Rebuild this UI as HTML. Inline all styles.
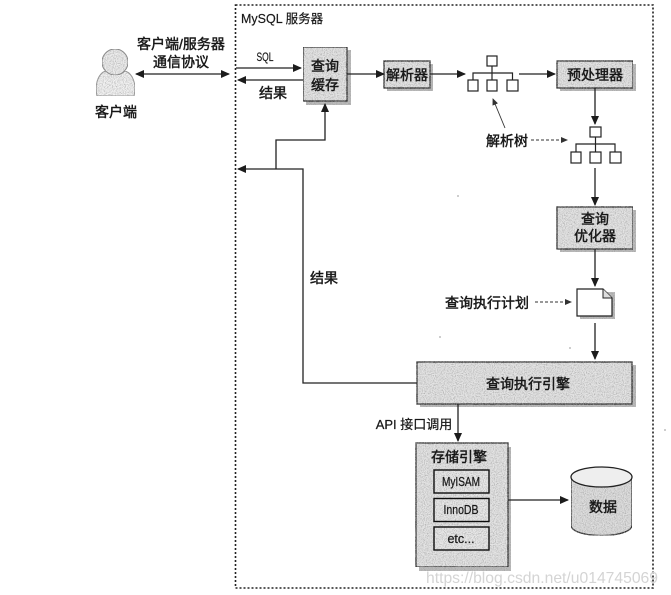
<!DOCTYPE html>
<html><head><meta charset="utf-8">
<style>
html,body{margin:0;padding:0;background:#fff;width:671px;height:595px;overflow:hidden}
svg{display:block}
text{font-family:"Liberation Sans","Noto Sans CJK SC",sans-serif;fill:#1a1a1a}
.b{font-weight:400;stroke:#1a1a1a;stroke-width:.45px}
</style></head><body>
<svg width="671" height="595" viewBox="0 0 671 595" xmlns="http://www.w3.org/2000/svg">
<defs>
<filter id="grain" x="0" y="0" width="100%" height="100%">
<feTurbulence type="fractalNoise" baseFrequency="0.9" numOctaves="2" seed="4" result="n"/>
<feColorMatrix in="n" type="matrix" values="0 0 0 0 0.3  0 0 0 0 0.3  0 0 0 0 0.3  1.8 0 0 0 -0.72" result="d"/>
<feComposite in="d" in2="SourceAlpha" operator="in" result="c"/>
<feMerge><feMergeNode in="SourceGraphic"/><feMergeNode in="c"/></feMerge>
</filter>
<filter id="soft" x="-5%" y="-5%" width="110%" height="110%"><feGaussianBlur stdDeviation="0.35"/></filter>
<marker id="a" markerWidth="9" markerHeight="8" refX="8" refY="4" orient="auto" markerUnits="userSpaceOnUse"><path d="M0,0 L9,4 L0,8 Z" fill="#1a1a1a"/></marker>
<marker id="as" markerWidth="7" markerHeight="6" refX="6" refY="3" orient="auto" markerUnits="userSpaceOnUse"><path d="M0,0 L7,3 L0,6 Z" fill="#333"/></marker>
<marker id="ar" markerWidth="9" markerHeight="8" refX="1" refY="4" orient="auto" markerUnits="userSpaceOnUse"><path d="M9,0 L0,4 L9,8 Z" fill="#1a1a1a"/></marker>
</defs>

<g filter="url(#soft)">
<!-- server dotted frame -->
<rect x="235.5" y="5" width="417.5" height="583" fill="none" stroke="#222" stroke-width="1.6" stroke-dasharray="2 2"/>

<!-- client icon -->
<path d="M97,96 C94,82 100,72 106,71 C111,76 120,76 125,71 C132,73 137,83 134,96 Z" fill="#f2f2f2" stroke="#999" stroke-width="1" filter="url(#grain)"/>
<circle cx="115" cy="62" r="13" fill="#ececec" stroke="#888" stroke-width="1" filter="url(#grain)"/>

<!-- shadows -->
<g fill="#bcbcbc" filter="url(#grain)">
<rect x="306" y="50" width="45" height="55"/>
<rect x="387" y="64" width="46" height="27"/>
<rect x="560" y="64" width="76" height="27"/>
<rect x="560" y="210" width="76" height="42"/>
<rect x="420" y="365" width="216" height="42"/>
<rect x="419" y="447" width="92" height="124"/>
<rect x="580" y="292" width="35" height="27"/>
<rect x="437" y="473" width="55" height="23"/>
<rect x="437" y="501" width="55" height="23"/>
<rect x="437" y="530" width="55" height="23"/>
</g>

<!-- boxes -->
<g fill="#e4e4e4" stroke="#222" stroke-width="1.3" filter="url(#grain)">
<rect x="303" y="47" width="44" height="54"/>
<rect x="384" y="61" width="46" height="27"/>
<rect x="557" y="61" width="76" height="27"/>
<rect x="557" y="207" width="76" height="42"/>
<rect x="417" y="362" width="215" height="42"/>
<rect x="416" y="443" width="92" height="124"/>
</g>
<g fill="#e8e8e8" filter="url(#grain)">
<rect x="434" y="470" width="55" height="23"/>
<rect x="434" y="498.500" width="55" height="23"/>
<rect x="434" y="527" width="55" height="23"/>
</g>
<g fill="none" stroke="#111" stroke-width="1.4">
<rect x="434" y="470" width="55" height="23"/>
<rect x="434" y="498.500" width="55" height="23"/>
<rect x="434" y="527" width="55" height="23"/>
</g>

<!-- doc -->
<path d="M577,289 H603 L612,298 V316 H577 Z" fill="#fff" stroke="#222" stroke-width="1.2"/>
<path d="M603,289 V298 H612" fill="#ddd" stroke="#222" stroke-width="1"/>

<!-- database -->
<path d="M571,477 V525 C571,539 632,539 632,525 V477 Z" fill="#dedede" stroke="#222" stroke-width="1.3" filter="url(#grain)"/>
<ellipse cx="601.500" cy="477" rx="30.500" ry="10" fill="#eeeeee" stroke="#222" stroke-width="1.3"/>

<!-- tree 1 -->
<g fill="none" stroke="#222" stroke-width="1.2">
<path d="M492,66 V80 M473,80 V73 H512.500 V80"/>
<g fill="#fff">
<rect x="487" y="56" width="10" height="10"/>
<rect x="468" y="80" width="10" height="11"/>
<rect x="487" y="80" width="10" height="11"/>
<rect x="507" y="80" width="11" height="11"/>
</g>
<!-- tree 2 -->
<path d="M595.500,137 V152 M576,152 V144 H615 V152"/>
<g fill="#fff">
<rect x="590" y="127" width="11" height="10"/>
<rect x="571" y="152" width="10" height="11"/>
<rect x="590" y="152" width="11" height="11"/>
<rect x="610" y="152" width="11" height="11"/>
</g>
</g>

<!-- connectors -->
<g fill="none" stroke="#222" stroke-width="1.3">
<path d="M136,74 H229" marker-start="url(#ar)" marker-end="url(#a)"/>
<path d="M236,68 H301" marker-end="url(#a)"/>
<path d="M303,80 H238" marker-end="url(#a)"/>
<path d="M347,74 H384" marker-end="url(#a)"/>
<path d="M430,74 H465" marker-end="url(#a)"/>
<path d="M519,74 H555" marker-end="url(#a)"/>
<path d="M595,88 V124" marker-end="url(#a)"/>
<path d="M595,168 V205" marker-end="url(#a)"/>
<path d="M595,249 V286" marker-end="url(#a)"/>
<path d="M595,323 V359" marker-end="url(#a)"/>
<path d="M458,404 V441" marker-end="url(#a)"/>
<path d="M508,500 H568" marker-end="url(#a)"/>
<path d="M417,383 H303 V169 H238" marker-end="url(#a)"/>
<path d="M276,169 V140 H325 V104" marker-end="url(#a)"/>
</g>
<g fill="none" stroke="#333" stroke-width="0.9">
<path d="M505,128 L493,99" marker-end="url(#as)"/>
<path d="M531,140 H567" stroke-dasharray="3 2" marker-end="url(#as)"/>
<path d="M535,302 H571" stroke-dasharray="3 2" marker-end="url(#as)"/>
</g>

<!-- labels -->
<text x="241" y="23" font-size="12.500" class="b" style="stroke-width:.2px">MySQL 服务器</text>
<text x="181" y="49" font-size="14" text-anchor="middle" class="b">客户端/服务器</text>
<text x="181" y="67" font-size="14" text-anchor="middle" class="b">通信协议</text>
<text x="265" y="61" font-size="12" text-anchor="middle" textLength="17" lengthAdjust="spacingAndGlyphs" class="b" style="stroke-width:.2px">SQL</text>
<text x="273" y="98" font-size="14" text-anchor="middle" class="b">结果</text>
<text x="116" y="117" font-size="14" text-anchor="middle" class="b">客户端</text>
<text x="325" y="71" font-size="14" text-anchor="middle" class="b">查询</text>
<text x="325" y="90" font-size="14" text-anchor="middle" class="b">缓存</text>
<text x="407" y="80" font-size="14" text-anchor="middle" class="b">解析器</text>
<text x="595" y="80" font-size="14" text-anchor="middle" class="b">预处理器</text>
<text x="507" y="146" font-size="14" text-anchor="middle" class="b">解析树</text>
<text x="595" y="224" font-size="14" text-anchor="middle" class="b">查询</text>
<text x="595" y="241" font-size="14" text-anchor="middle" class="b">优化器</text>
<text x="487" y="308" font-size="14" text-anchor="middle" class="b">查询执行计划</text>
<text x="324" y="283" font-size="14" text-anchor="middle" class="b">结果</text>
<text x="528" y="389" font-size="14" text-anchor="middle" class="b">查询执行引擎</text>
<text x="414" y="429" font-size="13" text-anchor="middle" class="b" style="stroke-width:.25px">API 接口调用</text>
<text x="459" y="462" font-size="14" text-anchor="middle" class="b">存储引擎</text>
<text x="461" y="486" font-size="12.500" text-anchor="middle" textLength="38" lengthAdjust="spacingAndGlyphs" class="b" style="stroke-width:.25px">MyISAM</text>
<text x="461" y="514" font-size="12.500" text-anchor="middle" textLength="35" lengthAdjust="spacingAndGlyphs" class="b" style="stroke-width:.25px">InnoDB</text>
<text x="461" y="543" font-size="12.500" text-anchor="middle" class="b" style="stroke-width:.25px">etc...</text>
<text x="603" y="512" font-size="14" text-anchor="middle" class="b">数据</text>

<!-- scan specks -->
<g fill="#555">
<circle cx="458" cy="196" r=".6"/><circle cx="440" cy="337" r=".6"/><circle cx="570" cy="348" r=".6"/><circle cx="665" cy="430" r=".6"/>
</g>
</g>

<text x="426" y="583" font-size="15.700" style="fill:#d4d4d4">https://blog.csdn.net/u014745069</text>
</svg>
</body></html>
